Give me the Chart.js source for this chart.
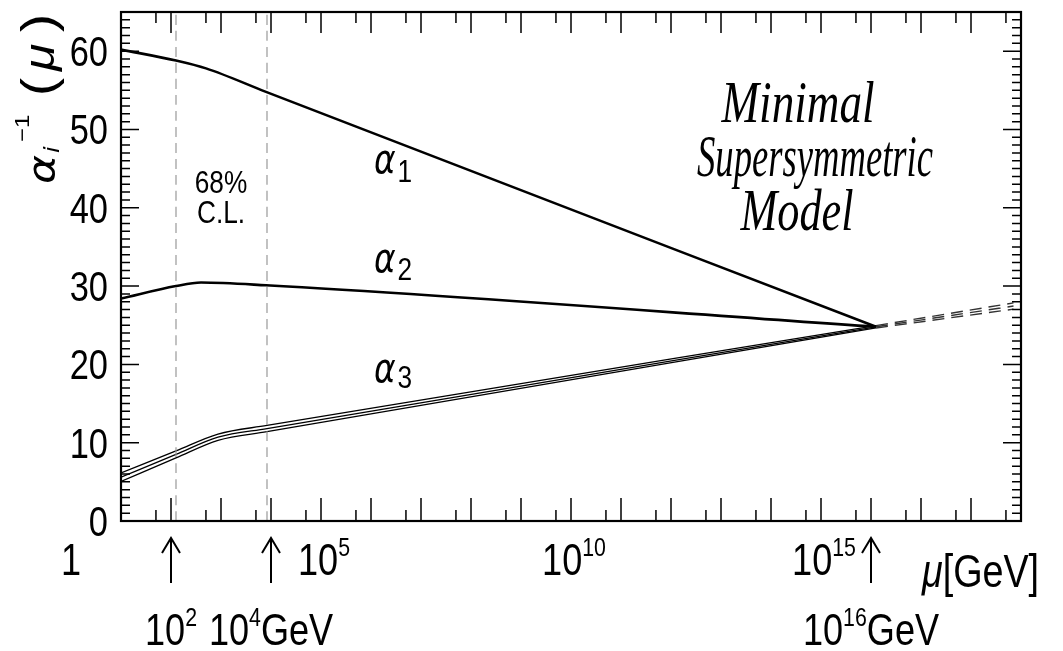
<!DOCTYPE html>
<html>
<head>
<meta charset="utf-8">
<title>Running couplings, minimal supersymmetric model</title>
<script src="https://cdn.jsdelivr.net/npm/chart.js@4.4.1/dist/chart.umd.min.js"></script>
<style>
  html, body { margin: 0; padding: 0; background: #fff; }
  #wrap { width: 1063px; height: 651px; }
</style>
</head>
<body>
<div id="wrap"><canvas id="myChart" width="1063" height="651"></canvas></div>
<script>
// x = log10(mu / GeV), y = 1/alpha_i
const alpha1X = [1, 2.1, 2.7, 3.9, 16.1];
const alpha1Y = [60.2, 58.8, 57.8, 54.8, 24.8];

const alpha2X = [1, 2.1, 2.6, 3.9, 16.1];
const alpha2Y = [28.4, 30.0, 30.45, 30.1, 24.8];

const alpha3X = [1, 2.1, 2.94, 3.92, 16.1];
const alpha3Y = [5.6, 8.5, 10.7, 11.8, 24.8];
const alpha3Upper = [6.15, 8.95, 11.1, 12.2, 24.95];
const alpha3Lower = [5.05, 8.05, 10.3, 11.4, 24.65];

// dashed continuation above the unification point
const extX = [16.1, 18.85];
const extY = [24.8, 27.45];
const extUpper = [24.95, 27.85];
const extLower = [24.65, 27.05];

// 68% C.L. band edges
const clEdges = [2.1, 3.92];

const xMin = 1, xMax = 19;
const yMin = 0, yMax = 65;
const yTicks = [0, 10, 20, 30, 40, 50, 60];
const xLabelPowers = [0, 5, 10, 15];
const arrowPowers = [2, 4, 16];
const arrowUnits = ['', 'GeV', 'GeV'];

const pts = (xs, ys) => xs.map((v, i) => ({ x: v, y: ys[i] }));

function line(data, width, color, dash) {
  return {
    data: data,
    showLine: true,
    borderColor: color || '#000',
    borderWidth: width,
    borderDash: dash || [],
    pointRadius: 0,
    cubicInterpolationMode: 'monotone',
    fill: false
  };
}

const datasets = [];
clEdges.forEach(e => {
  datasets.push(line([{ x: e, y: yMin }, { x: e, y: yMax }], 1.2, '#999', [10, 6]));
});
datasets.push(line(pts(alpha1X, alpha1Y), 2.6));
datasets.push(line(pts(alpha2X, alpha2Y), 2.6));
datasets.push(line(pts(alpha3X, alpha3Upper), 1.3));
datasets.push(line(pts(alpha3X, alpha3Y), 1.3));
datasets.push(line(pts(alpha3X, alpha3Lower), 1.3));
datasets.push(line(pts(extX, extUpper), 1.4, '#333', [12, 7]));
datasets.push(line(pts(extX, extY), 1.4, '#333', [12, 7]));
datasets.push(line(pts(extX, extLower), 1.4, '#333', [12, 7]));

const SX = 0.82;
const SANS = '"Liberation Sans", Arial, sans-serif';

// draw horizontally squeezed text, return its drawn width
function put(ctx, s, px, py, font, align) {
  ctx.save();
  ctx.font = font;
  const w = ctx.measureText(s).width * SX;
  let left = px;
  if (align === 'center') left = px - w / 2;
  if (align === 'right') left = px - w;
  ctx.translate(left, py);
  ctx.scale(SX, 1);
  ctx.textAlign = 'left';
  ctx.fillText(s, 0, 0);
  ctx.restore();
  return w;
}
function width(ctx, s, font) {
  ctx.save(); ctx.font = font;
  const w = ctx.measureText(s).width * SX;
  ctx.restore();
  return w;
}

// "10" + superscript + optional tail, centred on cx
function power(ctx, p, tail, cx, base) {
  const big = '44px ' + SANS, small = '26px ' + SANS;
  const total = width(ctx, '10', big) + width(ctx, String(p), small) + (tail ? width(ctx, tail, big) : 0);
  let x0 = cx - total / 2;
  x0 += put(ctx, '10', x0, base, big);
  x0 += put(ctx, String(p), x0, base - 19, small);
  if (tail) put(ctx, tail, x0, base, big);
}

const decorations = {
  id: 'decorations',
  afterDraw(chart) {
    const { ctx, chartArea: a, scales: { x, y } } = chart;
    ctx.save();
    ctx.strokeStyle = '#000';
    ctx.fillStyle = '#000';

    // tick marks on all four sides, pointing inwards
    ctx.lineWidth = 1.5;
    ctx.beginPath();
    for (let d = xMin; d <= xMax; d++) {
      const px = x.getPixelForValue(d);
      ctx.moveTo(px, a.bottom); ctx.lineTo(px, a.bottom - 23);
      ctx.moveTo(px, a.top); ctx.lineTo(px, a.top + 21);
      if (d < xMax) {
        const m = x.getPixelForValue(d + Math.log10(5));
        ctx.moveTo(m, a.bottom); ctx.lineTo(m, a.bottom - 11);
        ctx.moveTo(m, a.top); ctx.lineTo(m, a.top + 11);
      }
    }
    for (let v = yMin; v <= yMax; v++) {
      const py = y.getPixelForValue(v);
      const len = v % 10 === 0 ? 18 : 9;
      ctx.moveTo(a.left, py); ctx.lineTo(a.left + len, py);
      ctx.moveTo(a.right, py); ctx.lineTo(a.right - len, py);
    }
    ctx.stroke();

    // frame
    ctx.lineWidth = 2.2;
    ctx.strokeRect(a.left, a.top, a.right - a.left, a.bottom - a.top);

    // y tick labels
    yTicks.forEach(v => {
      put(ctx, String(v), a.left - 13, y.getPixelForValue(v) + 15, '42px ' + SANS, 'right');
    });

    // x tick labels
    xLabelPowers.forEach(p => {
      if (p === 0) put(ctx, '1', x.getPixelForValue(0), 575, '44px ' + SANS, 'center');
      else power(ctx, p, '', x.getPixelForValue(p) + 3, 575);
    });

    // arrows with scale markers
    ctx.lineWidth = 2;
    arrowPowers.forEach((p, i) => {
      const px = x.getPixelForValue(p);
      ctx.beginPath();
      ctx.moveTo(px, 583); ctx.lineTo(px, 538);
      ctx.moveTo(px - 9, 553); ctx.lineTo(px, 538); ctx.lineTo(px + 9, 553);
      ctx.stroke();
      power(ctx, p, arrowUnits[i], px, 645);
    });

    // axis titles
    let gx = 922;
    gx += put(ctx, '\u03bc', gx, 587, 'italic 46px ' + SANS);
    put(ctx, '[GeV]', gx, 587, '46px ' + SANS);

    ctx.save();
    ctx.translate(54, 184);
    ctx.rotate(-Math.PI / 2);
    ctx.scale(1, 0.85);
    ctx.font = 'italic 44px "DejaVu Sans", sans-serif';
    ctx.fillText('\u03b1', 0, 0);
    ctx.font = 'italic 24px "DejaVu Sans", sans-serif';
    ctx.fillText('i', 31, 6);
    ctx.font = '24px "Liberation Sans", sans-serif';
    ctx.fillText('\u22121', 42, -30);
    ctx.font = '54px "Liberation Sans", sans-serif';
    ctx.fillText('(', 88, 0);
    ctx.font = 'italic 50px "Liberation Sans", sans-serif';
    ctx.fillText('\u03bc', 113, 0);
    ctx.font = '54px "Liberation Sans", sans-serif';
    ctx.fillText(')', 152, 0);
    ctx.restore();

    // curve labels
    const greek = 'italic 40px "DejaVu Sans", sans-serif';
    const sub = '32px ' + SANS;
    [['1', 173, 182], ['2', 272, 280], ['3', 382, 388]].forEach(([n, b, sb]) => {
      const w = put(ctx, '\u03b1', 374, b, greek);
      put(ctx, n, 374 + w + 2, sb, sub);
    });

    // confidence level note
    put(ctx, '68%', 221, 193, '32px ' + SANS, 'center');
    put(ctx, 'C.L.', 221, 223, '32px ' + SANS, 'center');

    // model name, each line fitted to its width in the figure
    const serif = 'italic 60px "Liberation Serif", "Times New Roman", serif';
    [['Minimal', 122, 798, 153], ['Supersymmetric', 176, 815, 236], ['Model', 230, 797, 113]].forEach(([s, b, cx, tw]) => {
      ctx.font = serif;
      const k = tw / ctx.measureText(s).width;
      ctx.save();
      ctx.translate(cx - tw / 2, b);
      ctx.scale(k, 1);
      ctx.fillText(s, 0, 0);
      ctx.restore();
    });

    ctx.restore();
  }
};

new Chart(document.getElementById('myChart').getContext('2d'), {
  type: 'scatter',
  data: { datasets: datasets },
  options: {
    responsive: false,
    animation: false,
    layout: { padding: { left: 121, top: 12, right: 42, bottom: 130 } },
    plugins: { legend: { display: false }, tooltip: { enabled: false } },
    scales: {
      x: { type: 'linear', min: xMin, max: xMax, display: false },
      y: { type: 'linear', min: yMin, max: yMax, display: false }
    }
  },
  plugins: [decorations]
});
</script>
</body>
</html>
